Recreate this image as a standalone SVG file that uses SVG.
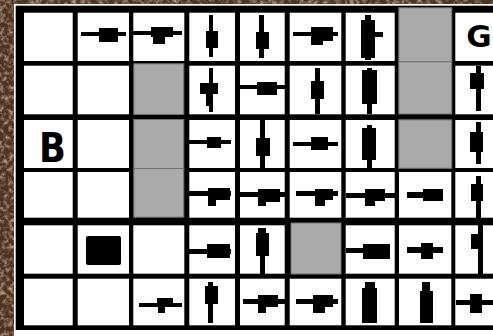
<svg xmlns="http://www.w3.org/2000/svg" width="493" height="336" viewBox="0 0 493 336">
<defs>
<filter id="tex" x="0" y="0" width="100%" height="100%">
<feTurbulence type="fractalNoise" baseFrequency="0.22" numOctaves="3" seed="7" result="n"/>
<feColorMatrix in="n" type="matrix" values="0 0 0 0 0.64  0 0 0 0 0.48  0 0 0 0 0.34  1.9 0 0 0 -0.8"/>
</filter>
<style>
.cell{fill:#fff}
.gray{fill:#aaa;stroke:#707070;stroke-width:1}
.pc{fill:#000}
.lbl{font-family:"DejaVu Sans","Liberation Sans",sans-serif;font-weight:bold;fill:#000;text-anchor:middle}
</style>
</defs>
<rect width="493" height="336" fill="#4e3322"/>
<rect width="493" height="336" filter="url(#tex)"/>
<rect x="14" y="4" width="480" height="332" fill="#fff"/>
<rect x="15.7" y="5.7" width="478" height="324.3" fill="#000"/>
<g id="connectors"/>
<!-- Row 1 -->
<g id="r1c1"><rect class="cell" x="24" y="12.7" width="48.7" height="48.3"/></g>
<g id="r1c2"><rect class="cell" x="77.7" y="12.7" width="51.3" height="48.3"/><rect class="pc" x="81" y="32" width="45" height="4"/><rect class="pc" x="99" y="28" width="19" height="14"/></g>
<g id="r1c3"><rect class="cell" x="133.3" y="12.7" width="51" height="48.3"/><rect class="pc" x="133" y="31" width="49" height="4"/><rect class="pc" x="151" y="27" width="22" height="10"/><rect class="pc" x="153" y="37" width="12" height="7"/></g>
<g id="r1c4"><rect class="cell" x="189.3" y="12.7" width="45.7" height="48.3"/><rect class="pc" x="209" y="15" width="4" height="42"/><rect class="pc" x="206" y="31" width="12" height="17"/></g>
<g id="r1c5"><rect class="cell" x="240" y="12.7" width="44.7" height="48.3"/><rect class="pc" x="259" y="15" width="5" height="43"/><rect class="pc" x="256" y="32" width="13" height="17"/></g>
<g id="r1c6"><rect class="cell" x="289.7" y="12.7" width="51.6" height="48.3"/><rect class="pc" x="293" y="32" width="45" height="4"/><rect class="pc" x="311" y="27" width="22" height="14"/><rect class="pc" x="311" y="41" width="12" height="4"/></g>
<g id="r1c7"><rect class="cell" x="345.7" y="12.7" width="49" height="48.3"/><rect class="pc" x="365" y="15" width="6" height="45"/><rect class="pc" x="361" y="20" width="14" height="38"/><rect class="pc" x="375" y="32" width="8" height="5"/></g>
<g id="r1c9"><rect class="cell" x="455.3" y="12.7" width="40" height="48.3"/><text class="lbl" x="479" y="46.5" font-size="31">G</text></g>
<!-- Row 2 -->
<g id="r2c1"><rect class="cell" x="24" y="65.7" width="48.7" height="48.6"/></g>
<g id="r2c2"><rect class="cell" x="77.7" y="65.7" width="51.3" height="48.6"/></g>
<g id="r2c4"><rect class="cell" x="189.3" y="65.7" width="45.7" height="48.6"/><rect class="pc" x="209" y="68" width="4" height="44"/><rect class="pc" x="200" y="83" width="18" height="11"/><rect class="pc" x="206" y="94" width="7" height="12"/></g>
<g id="r2c5"><rect class="cell" x="240" y="65.7" width="44.7" height="48.6"/><rect class="pc" x="240" y="85" width="45" height="4"/><rect class="pc" x="257" y="82" width="20" height="13"/></g>
<g id="r2c6"><rect class="cell" x="289.7" y="65.7" width="51.6" height="48.6"/><rect class="pc" x="315" y="68" width="5" height="46"/><rect class="pc" x="311" y="81" width="13" height="18"/></g>
<g id="r2c7"><rect class="cell" x="345.7" y="65.7" width="49" height="48.6"/><rect class="pc" x="367" y="68" width="5" height="46"/><rect class="pc" x="362" y="70" width="15" height="34"/></g>
<g id="r2c9"><rect class="cell" x="455.3" y="65.7" width="40" height="48.6"/><rect class="pc" x="476" y="66" width="5" height="45"/><rect class="pc" x="470" y="73" width="14" height="16"/></g>
<!-- Row 3 -->
<g id="r3c1"><rect class="cell" x="24" y="120" width="48.7" height="48"/><text class="lbl" x="52.5" y="162.5" font-size="40" transform="translate(52.5 0) scale(0.88 1) translate(-52.5 0)">B</text></g>
<g id="r3c2"><rect class="cell" x="77.7" y="120" width="51.3" height="48"/></g>
<g id="r3c4"><rect class="cell" x="189.3" y="120" width="45.7" height="48"/><rect class="pc" x="189" y="140" width="42" height="4"/><rect class="pc" x="207" y="137" width="14" height="11"/></g>
<g id="r3c5"><rect class="cell" x="240" y="120" width="44.7" height="48"/><rect class="pc" x="260" y="120" width="5" height="48"/><rect class="pc" x="256" y="138" width="14" height="18"/></g>
<g id="r3c6"><rect class="cell" x="289.7" y="120" width="51.6" height="48"/><rect class="pc" x="293" y="142" width="45" height="4"/><rect class="pc" x="311" y="137" width="17" height="13"/></g>
<g id="r3c7"><rect class="cell" x="345.7" y="120" width="49" height="48"/><rect class="pc" x="367" y="125" width="5" height="43"/><rect class="pc" x="362" y="128" width="14" height="32"/></g>
<g id="r3c9"><rect class="cell" x="455.3" y="120" width="40" height="48"/><rect class="pc" x="476" y="122" width="5" height="42"/><rect class="pc" x="470" y="132" width="13" height="20"/></g>
<!-- Row 4 -->
<g id="r4c1"><rect class="cell" x="24" y="172" width="48.7" height="45.7"/></g>
<g id="r4c2"><rect class="cell" x="77.7" y="172" width="51.3" height="45.7"/></g>
<g id="r4c4"><rect class="cell" x="189.3" y="172" width="45.7" height="45.7"/><rect class="pc" x="189" y="191" width="42" height="5"/><rect class="pc" x="208" y="188" width="22" height="12"/><rect class="pc" x="208" y="200" width="8" height="6"/></g>
<g id="r4c5"><rect class="cell" x="240" y="172" width="44.7" height="45.7"/><rect class="pc" x="240" y="192" width="45" height="5"/><rect class="pc" x="258" y="189" width="22" height="13"/><rect class="pc" x="258" y="202" width="8" height="4"/></g>
<g id="r4c6"><rect class="cell" x="289.7" y="172" width="51.6" height="45.7"/><rect class="pc" x="296" y="191" width="42" height="5"/><rect class="pc" x="315" y="189" width="18" height="11"/><rect class="pc" x="315" y="199" width="10" height="7"/></g>
<g id="r4c7"><rect class="cell" x="345.7" y="172" width="49" height="45.7"/><rect class="pc" x="346" y="193" width="49" height="5"/><rect class="pc" x="365" y="189" width="20" height="12"/><rect class="pc" x="365" y="201" width="10" height="5"/></g>
<g id="r4c8"><rect class="cell" x="399" y="172" width="52.3" height="45.7"/><rect class="pc" x="407" y="192" width="36" height="6"/><rect class="pc" x="423" y="189" width="20" height="12"/></g>
<g id="r4c9"><rect class="cell" x="455.3" y="172" width="40" height="45.7"/><rect class="pc" x="476" y="176" width="5" height="42"/><rect class="pc" x="471" y="184" width="12" height="17"/></g>
<!-- Row 5 -->
<g id="r5c1"><rect class="cell" x="24" y="225.3" width="48.7" height="48.4"/></g>
<g id="r5c2"><rect class="cell" x="77.7" y="225.3" width="51.3" height="48.4"/><rect class="pc" x="86" y="236" width="35" height="29" rx="2"/></g>
<g id="r5c3"><rect class="cell" x="133.3" y="225.3" width="51" height="48.4"/></g>
<g id="r5c4"><rect class="cell" x="189.3" y="225.3" width="45.7" height="48.4"/><rect class="pc" x="189" y="249" width="42" height="5"/><rect class="pc" x="207" y="244" width="23" height="14"/></g>
<g id="r5c5"><rect class="cell" x="240" y="225.3" width="44.7" height="48.4"/><rect class="pc" x="258" y="228" width="8" height="5"/><rect class="pc" x="256" y="233" width="13" height="23"/><rect class="pc" x="260" y="256" width="5" height="18"/></g>
<g id="r5c7"><rect class="cell" x="345.7" y="225.3" width="49" height="48.4"/><rect class="pc" x="346" y="248" width="44" height="5"/><rect class="pc" x="363" y="244" width="27" height="15"/></g>
<g id="r5c8"><rect class="cell" x="399" y="225.3" width="52.3" height="48.4"/><rect class="pc" x="407" y="247" width="36" height="6"/><rect class="pc" x="421" y="243" width="12" height="16"/></g>
<g id="r5c9"><rect class="cell" x="455.3" y="225.3" width="40" height="48.4"/><rect class="pc" x="478" y="223" width="5" height="51"/><rect class="pc" x="471" y="234" width="12" height="15"/></g>
<!-- Row 6 -->
<g id="r6c1"><rect class="cell" x="24" y="278.7" width="48.7" height="46.6"/></g>
<g id="r6c2"><rect class="cell" x="77.7" y="278.7" width="51.3" height="46.6"/></g>
<g id="r6c3"><rect class="cell" x="133.3" y="278.7" width="51" height="46.6"/><rect class="pc" x="139" y="303" width="43" height="4"/><rect class="pc" x="157" y="298" width="16" height="8"/><rect class="pc" x="158" y="306" width="7" height="7"/></g>
<g id="r6c4"><rect class="cell" x="189.3" y="278.7" width="45.7" height="46.6"/><rect class="pc" x="208" y="282" width="5" height="41"/><rect class="pc" x="205" y="286" width="13" height="18"/></g>
<g id="r6c5"><rect class="cell" x="240" y="278.7" width="44.7" height="46.6"/><rect class="pc" x="243" y="299" width="42" height="5"/><rect class="pc" x="258" y="295" width="20" height="12"/><rect class="pc" x="258" y="307" width="8" height="6"/></g>
<g id="r6c6"><rect class="cell" x="289.7" y="278.7" width="51.6" height="46.6"/><rect class="pc" x="296" y="299" width="42" height="5"/><rect class="pc" x="313" y="295" width="20" height="12"/><rect class="pc" x="313" y="307" width="12" height="6"/></g>
<g id="r6c7"><rect class="cell" x="345.7" y="278.7" width="49" height="46.6"/><rect class="pc" x="365" y="282" width="10" height="6"/><rect class="pc" x="362" y="288" width="15" height="35"/></g>
<g id="r6c8"><rect class="cell" x="399" y="278.7" width="52.3" height="46.6"/><rect class="pc" x="422" y="282" width="8" height="9"/><rect class="pc" x="420" y="291" width="13" height="32"/></g>
<g id="r6c9"><rect class="cell" x="455.3" y="278.7" width="40" height="46.6"/><rect class="pc" x="456" y="300" width="37" height="5"/><rect class="pc" x="470" y="294" width="12" height="19"/></g>
<!-- Gray blocked cells -->
<g id="r2c3"><rect class="gray" x="133.8" y="63.8" width="50" height="50.7"/></g>
<g id="r3c3"><rect class="gray" x="133.8" y="119.5" width="50" height="49"/></g>
<g id="r4c3"><rect class="gray" x="133.8" y="168.5" width="50" height="48.7"/></g>
<g id="r1c8"><rect class="gray" x="398.8" y="7.8" width="53" height="54"/></g>
<g id="r2c8"><rect class="gray" x="398.8" y="61.8" width="53" height="52.2"/></g>
<g id="r3c8"><rect class="gray" x="398.8" y="119.8" width="53" height="48.5"/></g>
<g id="r5c6"><rect class="gray" x="291" y="223" width="50" height="51"/></g>
</svg>
